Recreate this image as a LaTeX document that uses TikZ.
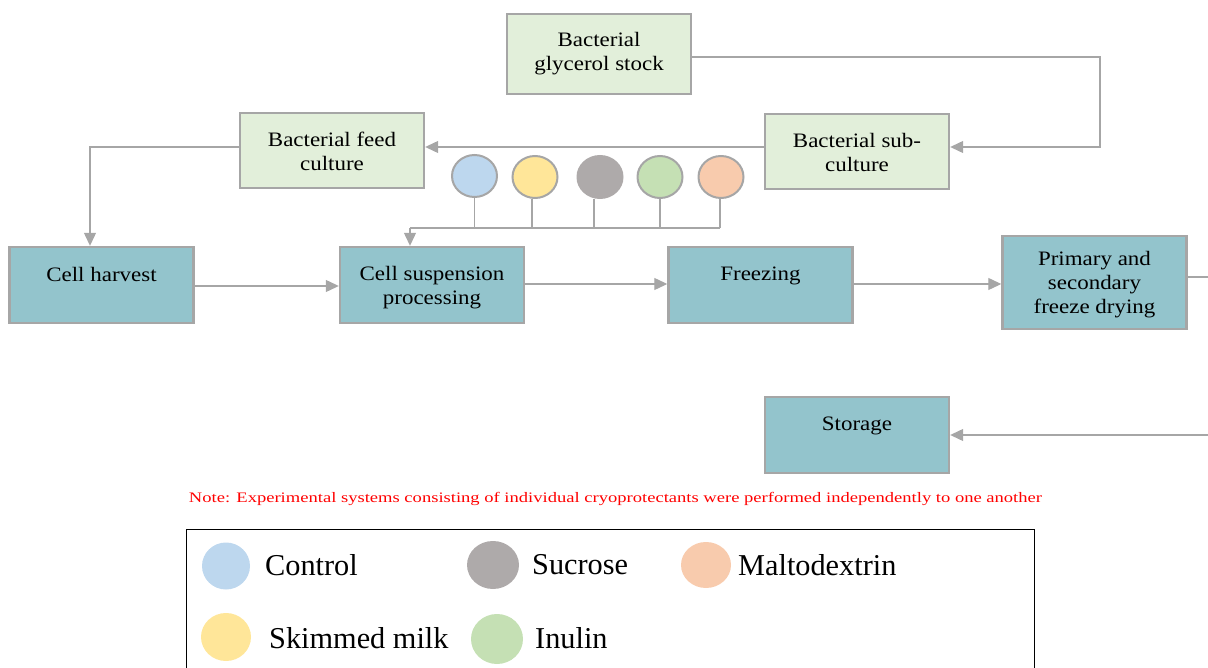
\documentclass[tikz,border=0pt]{standalone}
\usepackage{fontspec}
\setmainfont{Liberation Serif}
\newfontfamily\boxfont[FakeStretch=1.12]{Liberation Serif}
\newfontfamily\notefont[FakeStretch=1.28]{Liberation Serif}
\usetikzlibrary{arrows.meta,shapes.geometric}
\definecolor{edgegray}{HTML}{A6A6A6}
\definecolor{tealfill}{HTML}{93C4CC}
\definecolor{greenfill}{HTML}{E2EFDA}
\definecolor{cblue}{HTML}{BDD7EE}
\definecolor{cyellow}{HTML}{FFE699}
\definecolor{cgray}{HTML}{AEAAAA}
\definecolor{cgreen}{HTML}{C5E0B4}
\definecolor{corange}{HTML}{F8CBAD}
\tikzset{
  stagebox/.style={draw=edgegray, line width=2.4pt, minimum width=184pt, minimum height=76pt, inner sep=0pt},
  tealbox/.style={stagebox, fill=tealfill},
  greenbox/.style={stagebox, fill=greenfill},
  boxtext/.style={font=\boxfont\fontsize{20.5}{24}\selectfont, align=center, inner sep=0pt},
  arr/.style={draw=edgegray, line width=1.2pt, -{Triangle[length=13pt,width=12pt]}},
  conn/.style={draw=edgegray, line width=1.2pt},
  agent/.style={ellipse, draw=edgegray, line width=2pt, minimum width=45pt, minimum height=42pt, inner sep=0pt},
  legdot/.style={ellipse, inner sep=0pt},
  legtext/.style={font=\fontsize{30.3}{33}\selectfont, anchor=west, inner sep=0pt}
}
\begin{document}
\begin{tikzpicture}[x=1pt,y=-1pt]
\useasboundingbox (0,0) rectangle (1208,668);

% culture preparation
\node[greenbox, minimum height=80pt] (stock) at (599,54) {};
\node[boxtext] (stocktxt) at (599,54) {Bacterial\\glycerol stock};
\node[greenbox, minimum height=75pt] (sub) at (857,151.5) {};
\node[boxtext] (subtxt) at (857,152.5) {Bacterial sub-\\culture};
\node[greenbox, minimum height=75pt] (feed) at (332,150.5) {};
\node[boxtext] (feedtxt) at (332,151) {Bacterial feed\\culture};

% processing stages
\node[tealbox] (harvest) at (101.5,285) {};
\node[boxtext] (harvesttxt) at (101.5,274) {Cell harvest};
\node[tealbox] (susp) at (432,285) {};
\node[boxtext] (susptxt) at (432,287.5) {Cell suspension\\processing};
\node[tealbox] (freeze) at (760.5,285) {};
\node[boxtext] (freezetxt) at (760.5,276) {Freezing};
\node[tealbox, minimum height=93pt] (dry) at (1094.5,282.5) {};
\node[boxtext] (drytxt) at (1094.5,284.5) {Primary and\\secondary\\freeze drying};
\node[tealbox] (store) at (857,435) {};
\node[boxtext] (storetxt) at (857,426) {Storage};

% cryoprotectants
\node[agent, fill=cblue] (ctrl) at (474.5,176) {};
\node[agent, fill=cyellow] (skim) at (535,177) {};
\node[agent, fill=cgray, draw=cgray] (sucr) at (600,177) {};
\node[agent, fill=cgreen] (inul) at (660,177) {};
\node[agent, fill=corange] (malt) at (721,177) {};

\coordinate (bus) at (410,228);
\coordinate (busend) at (720,228);
\draw[conn] (ctrl.south) -- (ctrl.south |- bus);
\draw[conn] ([xshift=-3pt]skim.south) -- ([xshift=-3pt]skim.south |- bus);
\draw[conn] ([xshift=-6pt]sucr.south) -- ([xshift=-6pt]sucr.south |- bus);
\draw[conn] (inul.south) -- (inul.south |- bus);
\draw[conn] ([xshift=-1pt]malt.south) -- (busend);
\draw[conn] (busend) -- (bus);
\draw[arr] (bus) -- (bus |- susp.north);

% flow connectors
\coordinate (stockturn) at (1100,57);
\draw[arr] ([yshift=-3pt]stock.east) -- (stockturn) -- (stockturn |- 0,147) -- ([yshift=4.5pt]sub.east);
\draw[arr] ([yshift=4.5pt]sub.west) -- ([yshift=3.5pt]feed.east);
\coordinate (feedturn) at (90,147);
\draw[arr] ([yshift=3.5pt]feed.west) -- (feedturn) -- (feedturn |- harvest.north);
\draw[arr] ([yshift=-1pt]harvest.east) -- ([yshift=-1pt]susp.west);
\draw[arr] ([yshift=1pt]susp.east) -- ([yshift=1pt]freeze.west);
\draw[arr] ([yshift=1pt]freeze.east) -- ([yshift=-1.5pt]dry.west);
\coordinate (dryout) at (1208,277);
\draw[conn] ([yshift=5.5pt]dry.east) -- (dryout);
\coordinate (storein) at (1208,435);
\draw[arr] (storein) -- (store.east);

% note
\node[font=\notefont\fontsize{14.5}{17}\selectfont, text=red, inner sep=0pt] (note) at (615.5,499)
  {Note: Experimental systems consisting of individual cryoprotectants were performed independently to one another};

% legend
\draw[line width=1pt] (186,680) -- (186,529) -- (1034,529) -- (1034,680);
\node[legdot, fill=cblue, minimum width=48pt, minimum height=47pt] (lctrl) at (226,566) {};
\node[legtext] (lctrltxt) at (265,565) {Control};
\node[legdot, fill=cgray, minimum width=52pt, minimum height=48pt] (lsucr) at (493,565) {};
\node[legtext] (lsucrtxt) at (532,565) {Sucrose};
\node[legdot, fill=corange, minimum width=50pt, minimum height=46pt] (lmalt) at (706,565) {};
\node[legtext] (lmalttxt) at (738,565) {Maltodextrin};
\node[legdot, fill=cyellow, minimum width=50pt, minimum height=48pt] (lskim) at (226,637) {};
\node[legtext] (lskimtxt) at (269,638) {Skimmed milk};
\node[legdot, fill=cgreen, minimum width=52pt, minimum height=50pt] (linul) at (497,639) {};
\node[legtext] (linultxt) at (535,638) {Inulin};
\end{tikzpicture}
\end{document}
